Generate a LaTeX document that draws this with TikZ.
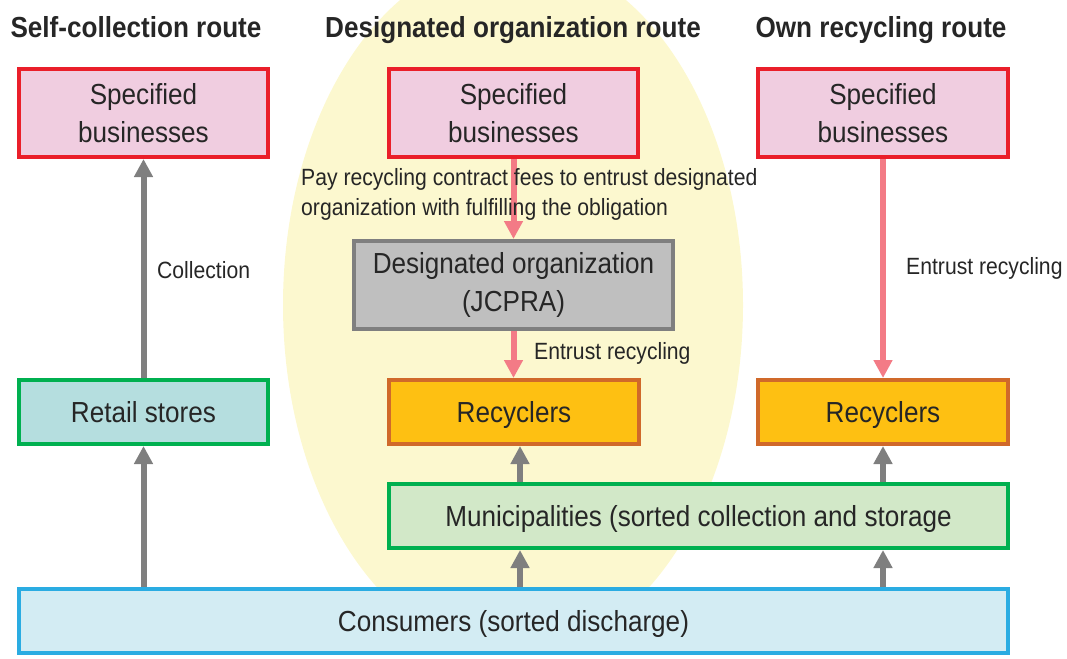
\documentclass[tikz,border=0pt]{standalone}
\usepackage{fontspec}
\setmainfont[FakeStretch=0.9]{Liberation Sans}
\usetikzlibrary{arrows.meta}
\definecolor{txt}{HTML}{262626}
\definecolor{ellfill}{HTML}{FCF8CF}
\definecolor{sbfill}{HTML}{F0CDE0}
\definecolor{sbdraw}{HTML}{EA1F2A}
\definecolor{dofill}{HTML}{BFBFBF}
\definecolor{dodraw}{HTML}{7F7F7F}
\definecolor{rsfill}{HTML}{B5DEDF}
\definecolor{grn}{HTML}{00B050}
\definecolor{rcfill}{HTML}{FEC012}
\definecolor{rcdraw}{HTML}{D0692A}
\definecolor{mufill}{HTML}{D2E8C8}
\definecolor{cofill}{HTML}{D3ECF3}
\definecolor{codraw}{HTML}{2AACE2}
\definecolor{garrow}{HTML}{7F7F7F}
\definecolor{parrow}{HTML}{F37B86}
\tikzset{
  box/.style={rectangle, line width=4pt, text=txt, align=center, inner sep=0pt,
    font=\fontsize{29}{38}\selectfont},
  onebox/.style={rectangle, line width=4pt, text=txt, inner sep=0pt, text depth=0pt,
    font=\fontsize{29}{38}\selectfont},
  heading/.style={text=txt, inner sep=0pt, anchor=base, font=\fontsize{29}{34}\selectfont\bfseries},
  lbl/.style={text=txt, inner sep=0pt, anchor=west, align=left,
    font=\fontsize{23.5}{30}\selectfont},
  grayarrow/.style={draw=garrow, line width=6pt, -{Triangle[width=18pt,length=18pt]}},
  pinkarrow/.style={draw=parrow, line width=6pt, -{Triangle[width=18pt,length=18pt]}},
}
\begin{document}
\begin{tikzpicture}[x=1pt,y=-1pt]
\useasboundingbox (0,0) rectangle (1067,658);
\fill[ellfill] (513,305) ellipse [x radius=230, y radius=350];

\node[heading] (h1) at (136,38) {Self-collection route};
\node[heading] (h2) at (513,38) {Designated organization route};
\node[heading] (h3) at (881,38) {Own recycling route};

\node[box, fill=sbfill, draw=sbdraw, minimum width=249pt, minimum height=88pt] (sb1) at (143.5,113) {Specified\\businesses};
\node[box, fill=sbfill, draw=sbdraw, minimum width=249pt, minimum height=88pt] (sb2) at (513.5,113) {Specified\\businesses};
\node[box, fill=sbfill, draw=sbdraw, minimum width=250pt, minimum height=88pt] (sb3) at (883,113) {Specified\\businesses};
\node[box, fill=dofill, draw=dodraw, minimum width=319pt, minimum height=88pt] (dor) at (513.5,285) {Designated organization\\(JCPRA)};
\node[onebox, fill=rsfill, draw=grn, minimum width=249pt, minimum height=64pt] (rs) at (143.5,412) {Retail stores};
\node[onebox, fill=rcfill, draw=rcdraw, minimum width=250pt, minimum height=64pt] (rc2) at (514,412) {Recyclers};
\node[onebox, fill=rcfill, draw=rcdraw, minimum width=250pt, minimum height=64pt] (rc3) at (883,412) {Recyclers};
\node[onebox, fill=mufill, draw=grn, minimum width=619pt, minimum height=64pt] (mun) at (698.5,516) {Municipalities (sorted collection and storage};
\node[onebox, fill=cofill, draw=codraw, minimum width=989pt, minimum height=64pt] (con) at (513.5,621) {Consumers (sorted discharge)};

\coordinate (mx) at (520,0);

\draw[grayarrow] (rs.north) -- (sb1.south);
\draw[grayarrow] (con.north -| rs) -- (rs.south);
\draw[grayarrow] (con.north -| mx) -- (mun.south -| mx);
\draw[grayarrow] (mun.north -| mx) -- (rc2.south -| mx);
\draw[grayarrow] (con.north -| rc3) -- (mun.south -| rc3);
\draw[grayarrow] (mun.north -| rc3) -- (rc3.south);

\draw[pinkarrow] (sb2.south) -- (dor.north -| sb2);
\draw[pinkarrow] (dor.south -| sb2) -- (rc2.north -| sb2);
\draw[pinkarrow] (sb3.south) -- (rc3.north);

\node[lbl] (l1) at (157,270) {Collection};
\node[lbl] (l2) at (301,194) {Pay recycling contract fees to entrust designated\\organization with fulfilling the obligation};
\node[lbl] (l3) at (534,353) {Entrust recycling};
\node[lbl] (l4) at (906,268) {Entrust recycling};
\end{tikzpicture}
\end{document}
